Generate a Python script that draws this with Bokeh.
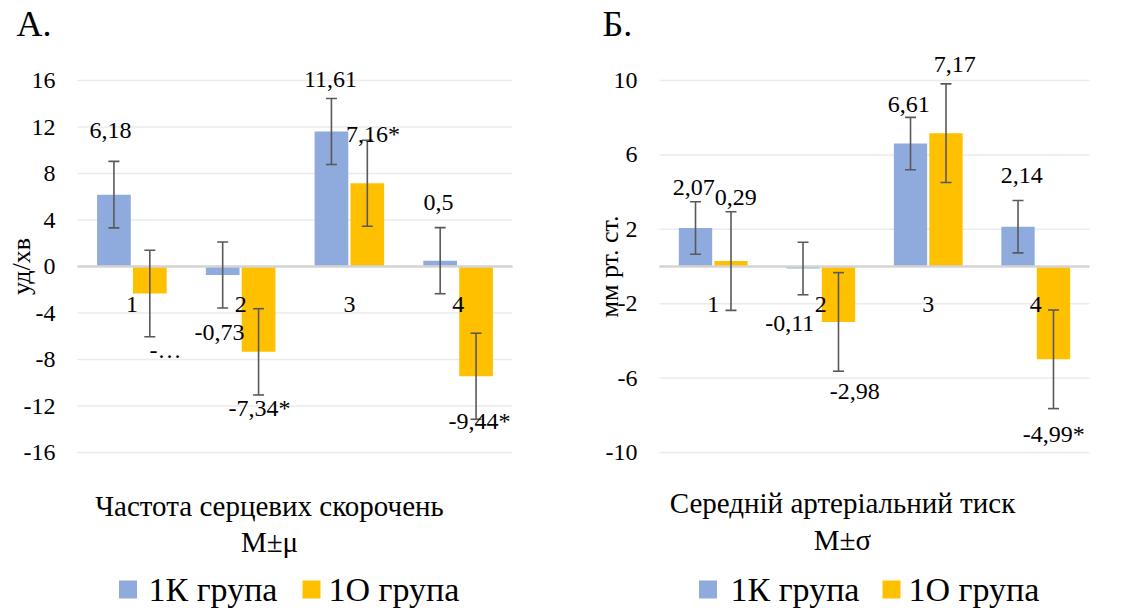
import math

from bokeh.embed import file_html
from bokeh.layouts import row
from bokeh.models import ColumnDataSource, Label, Range1d, TeeHead, Whisker
from bokeh.plotting import figure
from bokeh.resources import INLINE

# ---------------------------------------------------------------- data
categories = ["1", "2", "3", "4"]
groups = ["1К група", "1О група"]

# A. heart rate change, beats/min (M ± m)
hr_k = [6.18, -0.73, 11.61, 0.50]
hr_o = [-2.32, -7.34, 7.16, -9.44]
hr_k_err = [2.86, 2.84, 2.84, 2.84]
hr_o_err = [3.72, 3.71, 3.70, 3.70]
hr_k_sig = [False, False, False, False]
hr_o_sig = [False, True, True, True]
hr_ticks = [-16, -12, -8, -4, 0, 4, 8, 12, 16]

# Б. mean arterial pressure change, mm Hg (M ± σ)
map_k = [2.07, -0.11, 6.61, 2.14]
map_o = [0.29, -2.98, 7.17, -4.99]
map_k_err = [1.41, 1.41, 1.41, 1.41]
map_o_err = [2.65, 2.65, 2.65, 2.65]
map_k_sig = [False, False, False, False]
map_o_sig = [False, False, False, True]
map_ticks = [-10, -6, -2, 2, 6, 10]

# ---------------------------------------------------------------- style
FONT = "'Liberation Serif', 'Times New Roman', 'DejaVu Serif', serif"
COLORS = ["#8FAADC", "#FFC000"]
ERR = "#595959"
FIG_W, FIG_H = 567, 612
AREA_TOP, AREA_BOTTOM = 80, 452   # pixel rows of the outer ticks
BAR_W = 0.31
SHIFT = 0.165


def fmt(v, sig):
    return ("%g" % v).replace(".", ",") + ("*" if sig else "")


def build_panel(cfg):
    x0 = cfg["page_x"]
    a_left, a_right = cfg["area_x"]
    t_lo, t_hi = cfg["ticks"][0], cfg["ticks"][-1]
    cat_w = (a_right - a_left) / len(categories)
    ppu = (AREA_BOTTOM - AREA_TOP) / (t_hi - t_lo)
    n = len(categories)

    def fx(px):  # page pixel column -> category coordinate (0 .. n across the plot area)
        return (px - a_left) / cat_w

    def fy(py):  # page pixel row -> value coordinate
        return t_hi - (py - AREA_TOP) / ppu

    p = figure(width=FIG_W, height=FIG_H,
               x_range=Range1d(fx(x0), fx(x0 + FIG_W)),
               y_range=Range1d(fy(FIG_H), fy(0)),
               x_axis_location=None, y_axis_location=None,
               output_backend="svg", toolbar_location=None,
               min_border=0, min_border_left=0, min_border_right=0,
               min_border_top=0, min_border_bottom=0)
    p.outline_line_color = None
    p.grid.visible = False
    p.background_fill_color = "white"
    p.border_fill_color = "white"

    def text(x, y, s, size, align="center", baseline="middle", angle=0.0):
        p.add_layout(Label(x=x, y=y, text=s, text_align=align, text_baseline=baseline,
                           angle=angle, text_font=FONT, text_font_size=size,
                           text_font_style="normal", text_color="black"))

    # horizontal gridlines across the plot area, zero line on top
    ticks = cfg["ticks"]
    p.segment(x0=[0] * len(ticks), x1=[n] * len(ticks), y0=ticks, y1=ticks,
              line_color="#EBEBEB", line_width=1.5)

    # value-axis tick labels
    for t in ticks:
        text(fx(cfg["tick_label_right"]), t, str(t), "24px", align="right")

    pos = list(range(n))
    k, o = cfg["k"], cfg["o"]
    ke, oe = cfg["k_err"], cfg["o_err"]
    src = ColumnDataSource(dict(
        xk=[i + 0.5 - SHIFT for i in pos], xo=[i + 0.5 + SHIFT for i in pos],
        k=k, o=o,
        k_up=[v + e for v, e in zip(k, ke)], k_lo=[v - e for v, e in zip(k, ke)],
        o_up=[v + e for v, e in zip(o, oe)], o_lo=[v - e for v, e in zip(o, oe)],
    ))

    p.vbar(x="xk", top="k", width=BAR_W, source=src, fill_color=COLORS[0], line_color=None)
    p.vbar(x="xo", top="o", width=BAR_W, source=src, fill_color=COLORS[1], line_color=None)

    p.segment(x0=[0], x1=[n], y0=[0], y1=[0], line_color="#D4D4D4", line_width=2.5)

    for base, up, lo in (("xk", "k_up", "k_lo"), ("xo", "o_up", "o_lo")):
        p.add_layout(Whisker(
            source=src, base=base, upper=up, lower=lo,
            line_color=ERR, line_width=1.6, level="annotation",
            upper_head=TeeHead(size=11, line_color=ERR, line_width=1.6),
            lower_head=TeeHead(size=11, line_color=ERR, line_width=1.6)))

    # category names just under the zero line
    for i, c in enumerate(categories):
        text(i + 0.5, fy(cfg["cat_label_y"]), c, "24px")

    # value labels
    k_txt = [fmt(v, s) for v, s in zip(k, cfg["k_sig"])]
    o_txt = [fmt(v, s) for v, s in zip(o, cfg["o_sig"])]
    for i, t in cfg.get("o_clipped", {}).items():
        o_txt[i] = t
    for txts, lab in ((k_txt, cfg["k_lab"]), (o_txt, cfg["o_lab"])):
        for i, (s, (dx, yy)) in enumerate(zip(txts, lab)):
            text(i + 0.5 + dx, yy, s, "24px")

    # panel letter, axis titles
    lx, ly = cfg["letter_pos"]
    text(fx(lx), fy(ly), cfg["letter"], "36px", align="left")
    tx, ty = cfg["y_title_pos"]
    text(fx(tx), fy(ty), cfg["y_title"], "26px", angle=math.pi / 2)
    for line, (axx, ayy) in zip(cfg["x_title"], cfg["x_title_pos"]):
        text(fx(axx), fy(ayy), line, "29px")

    # legend: colour swatch + group name
    ly = fy(cfg["legend_y"])
    sw_x = [fx(sx) for sx in cfg["legend_swatch_x"]]
    p.scatter(x=sw_x, y=[ly, ly], marker="square", size=18, fill_color=COLORS,
              line_color=None)
    for g, gx in zip(groups, cfg["legend_text_x"]):
        text(fx(gx), ly, g, "34px", align="left")
    return p


panel_a = dict(
    page_x=0, area_x=(77, 512), ticks=hr_ticks, tick_label_right=55,
    k=hr_k, o=hr_o, k_err=hr_k_err, o_err=hr_o_err, k_sig=hr_k_sig, o_sig=hr_o_sig,
    o_clipped={0: "-…"},
    k_lab=[(-0.197, 11.7), (-0.194, -5.7), (-0.174, 16.1), (-0.18, 5.5)],
    o_lab=[(0.31, -7.2), (0.174, -12.2), (0.217, 11.4), (0.197, -13.25)],
    cat_label_y=304,
    letter="А.", letter_pos=(16, 23),
    y_title="уд/хв", y_title_pos=(21, 266),
    x_title=["Частота серцевих скорочень", "М±μ"], x_title_pos=[(269, 505), (269, 541)],
    legend_y=589, legend_swatch_x=[127.5, 311], legend_text_x=[148, 328],
)

panel_b = dict(
    page_x=567, area_x=(659, 1089), ticks=map_ticks, tick_label_right=637,
    k=map_k, o=map_o, k_err=map_k_err, o_err=map_o_err, k_sig=map_k_sig, o_sig=map_o_sig,
    k_lab=[(-0.181, 4.25), (-0.288, -3.06), (-0.181, 8.7), (-0.130, 4.9)],
    o_lab=[(0.210, 3.7), (0.317, -6.7), (0.247, 10.85), (0.168, -8.98)],
    cat_label_y=304,
    letter="Б.", letter_pos=(602, 23),
    y_title="мм рт. ст.", y_title_pos=(609, 266),
    x_title=["Середній артеріальний тиск", "М±σ"], x_title_pos=[(842, 502), (842, 539)],
    legend_y=589, legend_swatch_x=[707.5, 891], legend_text_x=[730, 908],
)

p1 = build_panel(panel_a)
p2 = build_panel(panel_b)
layout = row(p1, p2)

open("out.html", "w").write(file_html(layout, INLINE))
